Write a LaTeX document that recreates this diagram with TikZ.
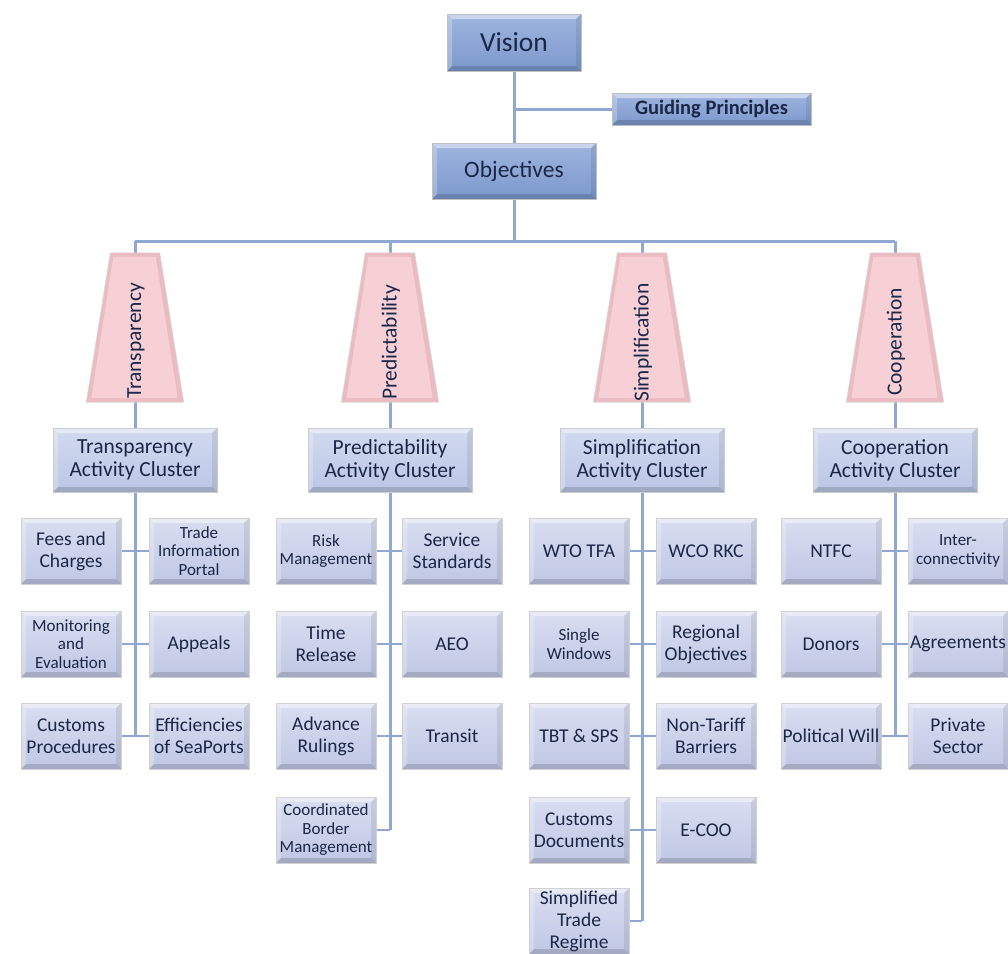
\documentclass[tikz,border=0pt]{standalone}
\usepackage{fontspec}
\setmainfont{Carlito}
\usetikzlibrary{backgrounds}
\definecolor{txt}{HTML}{1B2747}
\definecolor{lnc}{HTML}{8FA7D1}
\definecolor{topc}{HTML}{86A2D6}
\definecolor{topd}{HTML}{7C98CD}
\definecolor{clt}{HTML}{D2DAF0}
\definecolor{clb}{HTML}{BAC6E4}
\definecolor{lft}{HTML}{D9DEF1}
\definecolor{lfb}{HTML}{C0C7E4}
\definecolor{pk}{HTML}{F6D0D5}
\definecolor{pkd}{HTML}{EBBBC2}
\tikzset{
  bev/.style={path picture={
    \fill[white,opacity=.45] (path picture bounding box.north west) -- (path picture bounding box.north east)
      -- ([shift={(-#1,-#1)}]path picture bounding box.north east) -- ([shift={(#1,-#1)}]path picture bounding box.north west) -- cycle;
    \fill[white,opacity=.25] (path picture bounding box.north west) -- (path picture bounding box.south west)
      -- ([shift={(#1,#1)}]path picture bounding box.south west) -- ([shift={(#1,-#1)}]path picture bounding box.north west) -- cycle;
    \fill[black,opacity=.15] (path picture bounding box.south west) -- (path picture bounding box.south east)
      -- ([shift={(-#1,#1)}]path picture bounding box.south east) -- ([shift={(#1,#1)}]path picture bounding box.south west) -- cycle;
    \fill[black,opacity=.08] (path picture bounding box.north east) -- (path picture bounding box.south east)
      -- ([shift={(-#1,#1)}]path picture bounding box.south east) -- ([shift={(-#1,-#1)}]path picture bounding box.north east) -- cycle;
  }},
  topbox/.style={rectangle, top color=topc!80!white, bottom color=topd, draw=black!25, line width=0.6, bev=5pt, text=txt, inner sep=0pt, align=center},
  clbox/.style={rectangle, top color=clt, bottom color=clb, draw=black!20, line width=0.6, bev=5pt, text=txt, inner sep=0pt, align=center,
    minimum width=164, minimum height=64, font=\fontsize{21.5}{23}\selectfont},
  leaf/.style={rectangle, top color=lft, bottom color=lfb, draw=black!18, line width=0.6, bev=5pt, text=txt, inner sep=0pt, align=center,
    minimum width=100, minimum height=66, font=\fontsize{19.5}{22}\selectfont},
  sm/.style={font=\fontsize{17}{18.5}\selectfont},
  trapbox/.style={rectangle, inner sep=0pt, minimum width=97, minimum height=149},
  tlab/.style={rotate=90, anchor=west, text=txt, inner sep=0pt, font=\fontsize{21.5}{24}\selectfont},
  ln/.style={draw=lnc, line width=3},
  lnt/.style={draw=lnc, line width=2}
}
\newcommand\trapdraw[1]{%
  \fill[pkd, draw=black!15, line width=0.6] (#1.south west) -- (#1.south east)
     -- ([xshift=-24pt]#1.north east) -- ([xshift=24pt]#1.north west) -- cycle;
  \fill[pk] ([shift={(5pt,4pt)}]#1.south west) -- ([shift={(-6pt,4pt)}]#1.south east)
     -- ([shift={(-28pt,-4pt)}]#1.north east) -- ([shift={(27pt,-4pt)}]#1.north west) -- cycle;
}
\begin{document}
\begin{tikzpicture}[x=1pt,y=-1pt]
\useasboundingbox (0,0) rectangle (1008,953);
% top
\node[topbox, minimum width=134, minimum height=57, font=\fontsize{27.5}{30}\selectfont] (vision) at (514,42.5) {Vision};
\node[topbox, minimum width=199, minimum height=32, font=\bfseries\fontsize{20.5}{22}\selectfont] (gp) at (711.5,109) {Guiding Principles};
\node[topbox, minimum width=164, minimum height=56, font=\fontsize{23.5}{25}\selectfont] (obj) at (514,171) {Objectives};
\coordinate (bus) at (514,241);
% pillars
\node[trapbox] (t1) at (135,327.5) {};
\node[trapbox] (t2) at (390,327.5) {};
\node[trapbox] (t3) at (642,327.5) {};
\node[trapbox] (t4) at (895,327.5) {};
\trapdraw{t1}\trapdraw{t2}\trapdraw{t3}\trapdraw{t4}
\node[tlab] (l1) at (136,399) {Transparency};
\node[tlab] (l2) at (391,400) {Predictability};
\node[tlab] (l3) at (643,402) {Simplification};
\node[tlab] (l4) at (896,396) {Cooperation};
% clusters
\node[clbox] (c1) at (135,460) {Transparency\\Activity Cluster};
\node[clbox] (c2) at (390,460) {Predictability\\Activity Cluster};
\node[clbox] (c3) at (642,460) {Simplification\\Activity Cluster};
\node[clbox] (c4) at (895,460) {Cooperation\\Activity Cluster};
% transparency leaves
\node[leaf] (a1) at (71,551) {Fees and\\Charges};
\node[leaf, sm] (a2) at (199,551) {Trade\\Information\\Portal};
\node[leaf, sm] (a3) at (71,644) {Monitoring\\and\\Evaluation};
\node[leaf] (a4) at (199,644) {Appeals};
\node[leaf] (a5) at (71,736) {Customs\\Procedures};
\node[leaf] (a6) at (199,736) {Efficiencies\\of SeaPorts};
% predictability leaves
\node[leaf, sm] (b1) at (326,551) {Risk\\Management};
\node[leaf] (b2) at (452,551) {Service\\Standards};
\node[leaf] (b3) at (326,644) {Time\\Release};
\node[leaf] (b4) at (452,644) {AEO};
\node[leaf] (b5) at (326,736) {Advance\\Rulings};
\node[leaf] (b6) at (452,736) {Transit};
\node[leaf, sm] (b7) at (326,830) {Coordinated\\Border\\Management};
% simplification leaves
\node[leaf] (s1) at (579,551) {WTO TFA};
\node[leaf] (s2) at (706,551) {WCO RKC};
\node[leaf, sm] (s3) at (579,644) {Single\\Windows};
\node[leaf] (s4) at (706,644) {Regional\\Objectives};
\node[leaf] (s5) at (579,736) {TBT \& SPS};
\node[leaf] (s6) at (706,736) {Non-Tariff\\Barriers};
\node[leaf] (s7) at (579,830) {Customs\\Documents};
\node[leaf] (s8) at (706,830) {E-COO};
\node[leaf] (s9) at (579,921) {Simplified\\Trade\\Regime};
% cooperation leaves
\node[leaf] (k1) at (831,551) {NTFC};
\node[leaf, sm] (k2) at (958,551) {Inter-\\connectivity};
\node[leaf] (k3) at (831,644) {Donors};
\node[leaf] (k4) at (958,644) {Agreements};
\node[leaf] (k5) at (831,736) {Political Will};
\node[leaf] (k6) at (958,736) {Private\\Sector};
% connectors
\begin{scope}[on background layer]
\draw[ln] (vision.south) -- (obj.north);
\draw[ln] (vision.south |- gp.west) -- (gp.west);
\draw[ln] (obj.south) -- (bus);
\draw[ln] (t1.north |- bus) -- (t4.north |- bus);
\foreach \t/\c in {t1/c1,t2/c2,t3/c3,t4/c4}{
  \draw[ln] (\t.north |- bus) -- (\c.north);
}
\draw[ln] (c1.south) -- (c1.south |- a5.east);
\draw[ln] (c2.south) -- (c2.south |- b7.east);
\draw[ln] (c3.south) -- (c3.south |- s9.east);
\draw[ln] (c4.south) -- (c4.south |- k5.east);
\foreach \l/\r in {a1/a2,a3/a4,a5/a6,b1/b2,b3/b4,b5/b6,s1/s2,s3/s4,s5/s6,s7/s8,k1/k2,k3/k4,k5/k6}{
  \draw[lnt] (\l.east) -- (\r.west);
}
\draw[lnt] (b7.east) -- (c2.south |- b7.east);
\draw[lnt] (s9.east) -- (c3.south |- s9.east);
\end{scope}
\end{tikzpicture}
\end{document}
